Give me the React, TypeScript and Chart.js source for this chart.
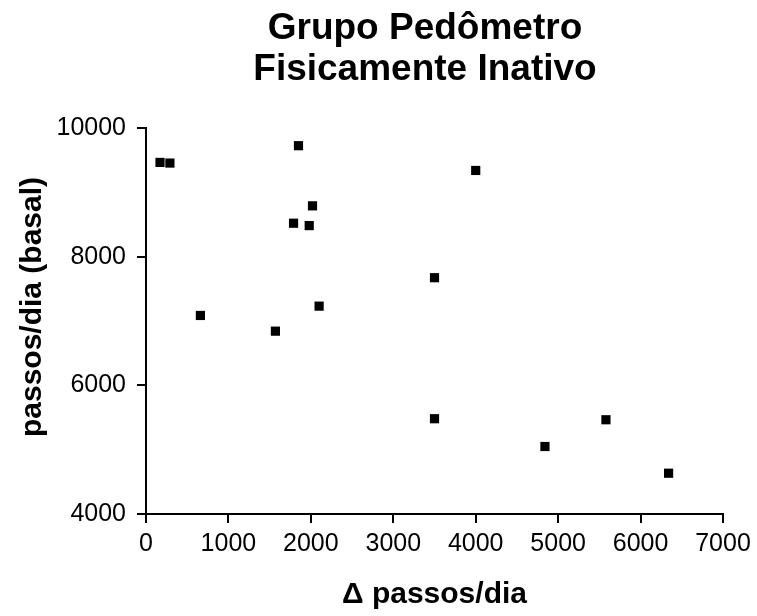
import React, { useEffect, useRef } from "react";
import { Chart, registerables } from "chart.js";

Chart.register(...registerables);

const FONT = "'Liberation Sans', Arial, sans-serif";

// Data
const deltaSteps = [170, 290, 1850, 2020, 1790, 1980, 2100, 660, 1570, 4000, 3500, 3500, 4840, 5580, 6340];
const basalSteps = [9465, 9455, 9725, 8790, 8520, 8483, 7231, 7086, 6842, 9340, 7673, 5481, 5049, 5465, 4634];

const titleLines = ["Grupo Pedômetro", "Fisicamente Inativo"];
const xTitle = "Δ passos/dia";
const yTitle = "passos/dia (basal)";
const xTicks = [0, 1000, 2000, 3000, 4000, 5000, 6000, 7000];
const yTicks = [4000, 6000, 8000, 10000];

const textPlugin = {
  id: "customText",
  afterDraw(chart: any) {
    const ctx = chart.ctx;
    ctx.save();
    ctx.fillStyle = "#000";
    ctx.font = `bold 37px ${FONT}`;
    ctx.textAlign = "center";
    ctx.textBaseline = "alphabetic";
    ctx.fillText(titleLines[0], 425, 39);
    ctx.fillText(titleLines[1], 425, 80);
    ctx.translate(41, 307);
    ctx.rotate(-Math.PI / 2);
    ctx.font = `bold 30px ${FONT}`;
    ctx.fillText(yTitle, 0, 0);
    ctx.restore();
  },
};

export default function App() {
  const ref = useRef<HTMLCanvasElement>(null);
  useEffect(() => {
    document.body.style.margin = "0";
    const canvas = ref.current;
    if (!canvas) return;
    const chart = new Chart(canvas, {
      type: "scatter",
      data: {
        datasets: [
          {
            data: deltaSteps.map((x, i) => ({ x, y: basalSteps[i] })),
            pointStyle: "rect",
            pointRadius: 6.5,
            pointHoverRadius: 6.5,
            borderWidth: 0,
            backgroundColor: "#000",
            borderColor: "#000",
          },
        ],
      },
      plugins: [textPlugin],
      options: {
        animation: false,
        responsive: false,
        devicePixelRatio: 1,
        layout: { padding: { top: 128, right: 34, bottom: 0, left: 0 } },
        plugins: {
          legend: { display: false },
          title: { display: false },
          tooltip: { enabled: false },
        },
        scales: {
          x: {
            type: "linear",
            min: 0,
            max: 7000,
            afterFit: (s: any) => {
              s.height = 102;
            },
            afterBuildTicks: (s: any) => {
              s.ticks = xTicks.map((v) => ({ value: v }));
            },
            border: { display: true, color: "#000", width: 2 },
            grid: {
              display: true,
              drawOnChartArea: false,
              drawTicks: true,
              tickLength: 9,
              color: "#000",
              lineWidth: 2,
            },
            ticks: {
              color: "#000",
              font: { family: FONT, size: 25 },
              padding: 6,
              maxRotation: 0,
              autoSkip: false,
              callback: (v: any) => String(v),
            },
            title: {
              display: true,
              text: xTitle,
              color: "#000",
              font: { family: FONT, size: 30, weight: "bold" },
              padding: { top: 4, bottom: 3 },
            },
          },
          y: {
            type: "linear",
            min: 4000,
            max: 10000,
            afterFit: (s: any) => {
              s.width = 146;
            },
            afterBuildTicks: (s: any) => {
              s.ticks = yTicks.map((v) => ({ value: v }));
            },
            border: { display: true, color: "#000", width: 2 },
            grid: {
              display: true,
              drawOnChartArea: false,
              drawTicks: true,
              tickLength: 9,
              color: "#000",
              lineWidth: 2,
            },
            ticks: {
              color: "#000",
              font: { family: FONT, size: 25 },
              padding: 11,
              autoSkip: false,
              callback: (v: any) => String(v),
            },
          },
        },
      },
    } as any);
    return () => chart.destroy();
  }, []);
  return (
    <canvas
      ref={ref}
      width={757}
      height={616}
      style={{ display: "block", width: 757, height: 616 }}
    />
  );
}
